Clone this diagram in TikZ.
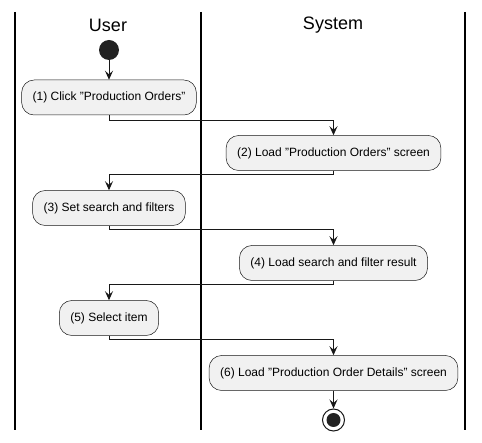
\documentclass[tikz,border=0pt]{standalone}
\usepackage{xcolor}
\usepackage{fontspec}
\setmainfont{Liberation Sans}
\usetikzlibrary{positioning,arrows.meta}
\definecolor{actfill}{HTML}{F1F1F1}
\definecolor{actline}{HTML}{181818}
\definecolor{dotfill}{HTML}{222222}

\begin{document}
\begin{tikzpicture}[x=1pt,y=-1pt,node distance=55pt,on grid,>={Stealth[length=9pt,width=8pt,inset=3.5pt]}]
        \tikzstyle{action}=[draw=actline,line width=0.5pt,fill=actfill,rounded corners=12.5pt,minimum height=35pt,inner xsep=11pt,font=\fontsize{12}{14}\selectfont]
        \tikzstyle{flow}=[->,draw=actline,line width=1pt]
        \tikzstyle{lane}=[draw=black,line width=1.5pt]
        \tikzstyle{title}=[font=\fontsize{18}{22}\selectfont]
        \useasboundingbox (0,0) rectangle (482,443);
        \draw[lane] (15,12) -- (15,430);
        \draw[lane] (201,12) -- (201,430);
        \draw[lane] (465,12) -- (465,430);
        \node[title] (User) at (108,25.5) {User};
        \node[title] (System) at (333,25.5) {System};
        \node[circle,fill=dotfill,minimum size=20pt,inner sep=0pt] (Start) at (109,50) {};
        \node[action] (Click) [below=47.5pt of Start] {(1) Click "Production Orders"};
        \node[action] (LoadOrders) [below right=55.5pt and 224.5pt of Click] {(2) Load "Production Orders" screen};
        \node[action] (SetSearch) [below left=55pt and 224.5pt of LoadOrders] {(3) Set search and filters};
        \node[action] (LoadResult) [below right=55pt and 224.5pt of SetSearch] {(4) Load search and filter result};
        \node[action] (Select) [below left=55pt and 224.5pt of LoadResult] {(5) Select item};
        \node[action] (LoadDetails) [below right=55pt and 224.5pt of Select] {(6) Load "Production Order Details" screen};
        \node[circle,draw=actline,line width=1pt,fill=white,minimum size=22pt,inner sep=0pt,
              path picture={\fill[dotfill] (path picture bounding box.center) circle (7pt);}] (Stop) [below=47pt of LoadDetails] {};
        \draw[flow] (Start) -- (Click);
        \draw[flow] (Click.south) -- ++(0,5) -| (LoadOrders);
        \draw[flow] (LoadOrders.south) -- ++(0,4) -| (SetSearch);
        \draw[flow] (SetSearch.south) -- ++(0,4) -| (LoadResult);
        \draw[flow] (LoadResult.south) -- ++(0,4) -| (Select);
        \draw[flow] (Select.south) -- ++(0,4) -| (LoadDetails);
        \draw[flow] (LoadDetails) -- (Stop);
\end{tikzpicture}
\end{document}
